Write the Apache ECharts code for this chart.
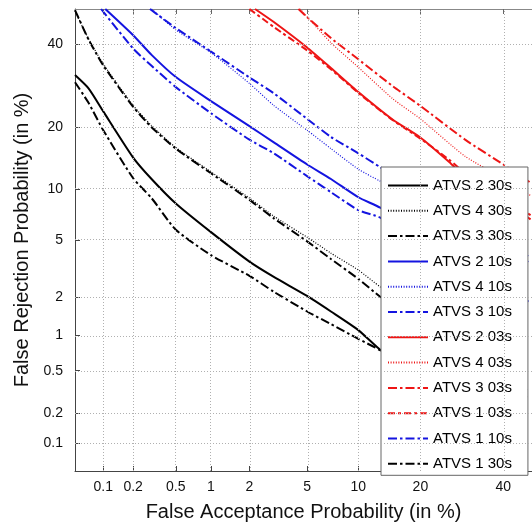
<!DOCTYPE html>
<html><head><meta charset="utf-8">
<script src="https://cdn.jsdelivr.net/npm/echarts@6/dist/echarts.min.js"></script>
<style>html,body{margin:0;padding:0;background:#fff}#c{width:532px;height:527px}</style>
</head><body><div id="c"></div><script>
// Tick labels (percent)
const xTicks = [0.1, 0.2, 0.5, 1, 2, 5, 10, 20, 40];
const yTicks = [0.1, 0.2, 0.5, 1, 2, 5, 10, 20, 40];
const axisMinPct = 0.05;     // both axes start at 0.05 %
const yMaxPct = 50;          // top of plot
const xMaxPct = 48.0;        // picture is cropped at the right, just short of 50 %

// Series: [False Acceptance %, False Rejection %]
const atvs2_30s = [[0.05,31.9],[0.07,28.6],[0.1,23.3],[0.2,14.5],[0.3,11.3],[0.5,8.3],[1,5.6],[2,3.6],[3,2.82],[5,2.05],[7,1.56],[10,1.11],[13,0.76],[20,0.43],[30,0.21],[40,0.11]];
const atvs4_30s = [[0.05,49.5],[0.07,41.6],[0.1,34.8],[0.2,24.6],[0.3,20.3],[0.5,16.2],[1,12.3],[2,8.9],[3,7.0],[5,5.2],[7,4.1],[10,3.15],[13,2.39],[20,1.5],[30,0.82],[40,0.52],[47,0.33]];
const atvs3_30s = [[0.05,49.7],[0.07,41.4],[0.1,34.4],[0.2,24.3],[0.3,20],[0.5,16],[1,12.1],[2,8.7],[3,6.8],[5,4.9],[7,3.75],[10,2.73],[13,2.02],[20,1.24],[30,0.65],[40,0.41],[47,0.28]];
const atvs2_10s = [[0.105,50],[0.2,42.6],[0.3,37.2],[0.5,31.4],[1,25.6],[2,20.2],[3,17.1],[5,13.4],[7,11.3],[10,9.0],[13,7.85],[20,5.5],[30,3.5],[40,2.39],[47,1.86]];
const atvs4_10s = [[0.3,50],[0.5,44.1],[1,37.8],[2,29.8],[3,24.6],[5,19.4],[7,16.0],[10,12.7],[13,11.0],[20,8.3],[30,5.7],[40,4.3],[47,3.6]];
const atvs3_10s = [[0.29,50],[0.5,44.6],[1,38.1],[2,31.3],[3,27.4],[5,21.7],[7,18.1],[10,15.2],[13,13.0],[20,9.7],[30,6.7],[40,4.8],[47,3.9]];
const atvs2_03s = [[2.2,50],[3,46.3],[5,39.2],[7,33.7],[10,27.7],[15,21.5],[20,18.0],[26.5,13.6],[30,11.6],[40,8.6],[47.6,6.7]];
const atvs4_03s = [[4.5,50],[7,40.5],[10,33.9],[15,26.1],[20,21.7],[30,14.7],[40,11.4],[47.6,9.2]];
const atvs3_03s = [[4.4,50],[5,47.7],[7,41.8],[10,36.0],[15,29.1],[20,24.5],[30,17.6],[40,13.4],[47.6,10.8]];
const atvs1_03s = [[2.0,50],[3,44.9],[5,38.4],[7,33.4],[10,27.5],[15,21.4],[20,17.8],[26.5,14.0],[30,12.1],[40,8.9],[47.6,7.1]];
const atvs1_10s = [[0.095,50],[0.2,38.9],[0.3,34.3],[0.5,28.9],[1,22.9],[2,17.6],[3,15.2],[5,11.7],[7,9.6],[10,7.6],[13,6.87],[20,4.7],[30,3.05],[40,2.1],[47,1.7]];
const atvs1_30s = [[0.05,30.1],[0.07,25.2],[0.1,19.4],[0.2,11.4],[0.3,8.9],[0.5,5.8],[1,3.98],[2,2.87],[3,2.2],[5,1.56],[7,1.24],[10,0.94],[13,0.75],[20,0.41],[30,0.22],[40,0.12]];

function probit(p){
  const a=[-3.969683028665376e+01,2.209460984245205e+02,-2.759285104469687e+02,1.383577518672690e+02,-3.066479806614716e+01,2.506628277459239e+00];
  const b=[-5.447609879822406e+01,1.615858368580409e+02,-1.556989798598866e+02,6.680131188771972e+01,-1.328068155288572e+01];
  const c=[-7.784894002430293e-03,-3.223964580411365e-01,-2.400758277161838e+00,-2.549671500713394e+00,4.374664141464968e+00,2.938163982698783e+00];
  const d=[7.784695709041462e-03,3.224671290700398e-01,2.445134137142996e+00,3.754408661907416e+00];
  const pl=0.02425; let q,r;
  if(p<pl){q=Math.sqrt(-2*Math.log(p));return (((((c[0]*q+c[1])*q+c[2])*q+c[3])*q+c[4])*q+c[5])/((((d[0]*q+d[1])*q+d[2])*q+d[3])*q+1);}
  if(p<=1-pl){q=p-0.5;r=q*q;return (((((a[0]*r+a[1])*r+a[2])*r+a[3])*r+a[4])*r+a[5])*q/(((((b[0]*r+b[1])*r+b[2])*r+b[3])*r+b[4])*r+1);}
  q=Math.sqrt(-2*Math.log(1-p));return -(((((c[0]*q+c[1])*q+c[2])*q+c[3])*q+c[4])*q+c[5])/((((d[0]*q+d[1])*q+d[2])*q+d[3])*q+1);
}
const P = v => probit(v/100);
const lo = P(axisMinPct);
const yHi = Math.abs(P(yMaxPct)) < 1e-9 ? 0 : P(yMaxPct);
const xHi = P(xMaxPct);
const xTickVals = xTicks.map(P), yTickVals = yTicks.map(P);
function lab(ticks){ return v => { for (const t of ticks){ if (Math.abs(P(t)-v) < 1e-6) return String(t); } return ''; }; }

const FONT = "'Liberation Sans', Arial, sans-serif";
const BLACK='#000000', BLUE='#1414e0', RED='#ee1515';
const SOLID='solid', DOT=[1,1.6], DASHDOT=[9,3,2.5,3], DASH2=[7,3,3,3];
const specs = [
  ['ATVS 2 30s', atvs2_30s, BLACK, SOLID, 2],
  ['ATVS 4 30s', atvs4_30s, BLACK, DOT, 1.2],
  ['ATVS 3 30s', atvs3_30s, BLACK, DASHDOT, 2],
  ['ATVS 2 10s', atvs2_10s, BLUE, SOLID, 2],
  ['ATVS 4 10s', atvs4_10s, BLUE, DOT, 1.2],
  ['ATVS 3 10s', atvs3_10s, BLUE, DASHDOT, 2],
  ['ATVS 2 03s', atvs2_03s, RED, SOLID, 2],
  ['ATVS 4 03s', atvs4_03s, RED, DOT, 1.2],
  ['ATVS 3 03s', atvs3_03s, RED, DASHDOT, 2],
  ['ATVS 1 03s', atvs1_03s, RED, DASH2, 2],
  ['ATVS 1 10s', atvs1_10s, BLUE, DASHDOT, 2],
  ['ATVS 1 30s', atvs1_30s, BLACK, DASHDOT, 2]
];

const series = [{
  name: '_grid', type: 'line', data: [], silent: true, z: 1,
  markLine: {
    silent: true, animation: false, symbol: ['none','none'], label: {show:false},
    lineStyle: {color:'#b0b0b0', type:[1,2], width:1},
    emphasis: {disabled:true},
    data: xTickVals.map(v=>({xAxis:v})).concat(yTickVals.map(v=>({yAxis:v})))
  }
}].concat(specs.map(([name, arr, color, type, width]) => ({
  name, type:'line', symbol:'none', showSymbol:false, clip:true, z:3,
  smooth:0.2,
  data: arr.map(([fa, fr]) => [P(fa), P(fr)]),
  lineStyle: {color, type, width}, itemStyle: {color},
  emphasis: {disabled:true}
})));

const chart = echarts.init(document.getElementById('c'), null, {renderer:'canvas'});
chart.setOption({
  animation: false,
  backgroundColor: '#fff',
  grid: {left:75, top:9, right:0, height:467, containLabel:false},
  xAxis: [{
    type:'value', position:'bottom', min:lo, max:xHi,
    axisLine:{show:true, onZero:false, lineStyle:{color:'#444', width:1}},
    axisTick:{show:true, inside:true, length:5, customValues:xTickVals, lineStyle:{color:'#444'}},
    axisLabel:{show:true, customValues:xTickVals, formatter:lab(xTicks), fontSize:14, color:'#111', margin:9, fontFamily:FONT},
    splitLine:{show:false},
    name:'False Acceptance Probability (in %)', nameLocation:'middle', nameGap:31,
    nameTextStyle:{fontSize:20, color:'#111', fontFamily:FONT}
  },{
    type:'value', position:'top', min:lo, max:xHi,
    axisLine:{show:true, onZero:false, lineStyle:{color:'#888', width:1}},
    axisTick:{show:true, inside:true, length:5, customValues:xTickVals, lineStyle:{color:'#666'}},
    axisLabel:{show:false}, splitLine:{show:false}
  }],
  yAxis: [{
    type:'value', position:'left', min:lo, max:yHi,
    axisLine:{show:true, onZero:false, lineStyle:{color:'#444', width:1}},
    axisTick:{show:true, inside:true, length:5, customValues:yTickVals, lineStyle:{color:'#444'}},
    axisLabel:{show:true, customValues:yTickVals, formatter:lab(yTicks), fontSize:14, color:'#111', margin:12, fontFamily:FONT},
    splitLine:{show:false},
    name:'False Rejection Probability (in %)', nameLocation:'middle', nameGap:36,
    nameTextStyle:{fontSize:20, color:'#111', fontFamily:FONT}
  }],
  legend: {
    orient:'vertical', left:381, top:167, selectedMode:false,
    data: specs.map(s=>s[0]),
    itemWidth:40, itemHeight:14, itemGap:10.3, padding:[11,16,4,6],
    itemStyle:{color:'rgba(0,0,0,0)', opacity:0, borderWidth:0},
    borderColor:'#666', borderWidth:1, backgroundColor:'#fff',
    textStyle:{fontSize:15, color:'#000', fontFamily:FONT}
  },
  series
});
</script></body></html>
